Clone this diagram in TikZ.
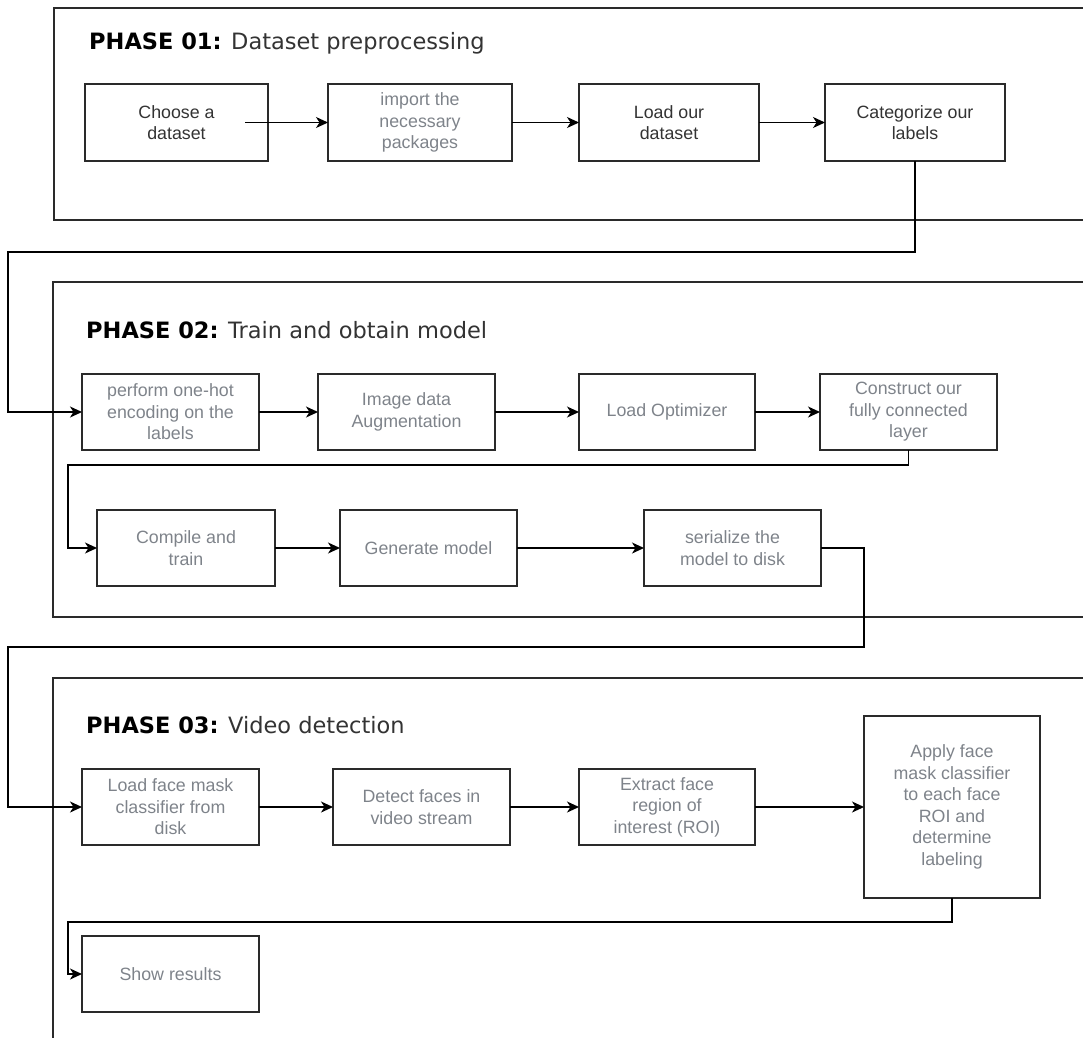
\documentclass[tikz,border=0pt]{standalone}
\usepackage{fontspec}
\setmainfont{Liberation Sans}
\newfontfamily\titlefont{DejaVu Sans}
\usetikzlibrary{arrows.meta}
\definecolor{edge}{HTML}{2A2A2A}
\definecolor{darktxt}{HTML}{333333}
\definecolor{graytxt}{HTML}{7E838A}
\begin{document}
\begin{tikzpicture}[x=1pt,y=-1pt,
  frame/.style={draw,color=edge,line width=1.5pt},
  box/.style={minimum width=177pt,minimum height=76pt,outer sep=0pt,
    align=center,inner sep=2pt,font=\fontsize{17.8}{21.5}\selectfont},
  gtxt/.style={box},
  dbox/.style={box,minimum height=77pt},
  rim/.style={draw,color=edge,line width=1.7pt},
  conn/.style={draw,color=black,line width=1.5pt},
  arr/.style={conn,-{Stealth[length=12pt,width=11pt,inset=3.5pt]}},
  ttl/.style={anchor=base west,inner sep=0pt,font=\titlefont\fontsize{22.5}{26}\selectfont}]
\useasboundingbox (0,0) rectangle (1083,1037);
% frames
\draw[frame] (1090,8) -- (54,8) -- (54,220) -- (1090,220);
\draw[frame] (1090,282) -- (53,282) -- (53,617) -- (1090,617);
\draw[frame] (1090,678) -- (53,678) -- (53,1045);
% phase 1
\node[dbox,minimum width=183pt] (c1) at (176.5,122.5) {\textcolor{darktxt}{Choose a}\\\textcolor{darktxt}{dataset}};
\node[box,minimum width=184pt,minimum height=77pt] (c2) at (420,122.5) {\textcolor{graytxt}{import the}\\\textcolor{graytxt}{necessary}\\\textcolor{graytxt}{packages}};
\node[dbox,minimum width=180pt] (c3) at (669,122.5) {\textcolor{darktxt}{Load our}\\\textcolor{darktxt}{dataset}};
\node[dbox,minimum width=180pt] (c4) at (915,122.5) {\textcolor{darktxt}{Categorize our}\\\textcolor{darktxt}{labels}};
% phase 2
\node[box] (p1) at (170.5,412) {\textcolor{graytxt}{perform one-hot}\\\textcolor{graytxt}{encoding on the}\\\textcolor{graytxt}{labels}};
\node[box] (p2) at (406.5,412) {\textcolor{graytxt}{Image data}\\\textcolor{graytxt}{Augmentation}};
\node[box,minimum width=176pt] (p3) at (667,412) {\textcolor{graytxt}{Load Optimizer}};
\node[box] (p4) at (908.5,412) {\textcolor{graytxt}{Construct our}\\\textcolor{graytxt}{fully connected}\\\textcolor{graytxt}{layer}};
\node[box,minimum width=178pt] (p5) at (186,548) {\textcolor{graytxt}{Compile and}\\\textcolor{graytxt}{train}};
\node[box] (p6) at (428.5,548) {\textcolor{graytxt}{Generate model}};
\node[box] (p7) at (732.5,548) {\textcolor{graytxt}{serialize the}\\\textcolor{graytxt}{model to disk}};
% phase 3
\node[box] (q1) at (170.5,807) {\textcolor{graytxt}{Load face mask}\\\textcolor{graytxt}{classifier from}\\\textcolor{graytxt}{disk}};
\node[box] (q2) at (421.5,807) {\textcolor{graytxt}{Detect faces in}\\\textcolor{graytxt}{video stream}};
\node[box,minimum width=176pt] (q3) at (667,807) {\textcolor{graytxt}{Extract face}\\\textcolor{graytxt}{region of}\\\textcolor{graytxt}{interest (ROI)}};
\node[box,minimum width=176pt,minimum height=182pt] (q4) at (952,807) {\textcolor{graytxt}{Apply face}\\\textcolor{graytxt}{mask classifier}\\\textcolor{graytxt}{to each face}\\\textcolor{graytxt}{ROI and}\\\textcolor{graytxt}{determine}\\\textcolor{graytxt}{labeling}};
\node[box] (q5) at (170.5,974) {\textcolor{graytxt}{Show results}};
% box outlines
\foreach \n in {c1,c2,c3,c4,p1,p2,p3,p4,p5,p6,p7,q1,q2,q3,q4,q5}
  \draw[rim] (\n.north west) rectangle (\n.south east);
% titles
\node[ttl] (t1) at (89,49) {\textcolor{black}{\textbf{PHASE 01:}} \textcolor{darktxt}{Dataset preprocessing}};
\node[ttl] (t2) at (86,338) {\textcolor{black}{\textbf{PHASE 02:}} \textcolor{darktxt}{Train and obtain model}};
\node[ttl] (t3) at (86,733) {\textcolor{black}{\textbf{PHASE 03:}} \textcolor{darktxt}{Video detection}};
% connector corners
\coordinate (k1) at (8,252);
\coordinate (k2) at (68,465);
\coordinate (k3) at (864,647);
\coordinate (k4) at (8,647);
\coordinate (k5) at (68,922);
% arrows
\draw[arr] ([xshift=-23pt]c1.east) -- (c2.west);
\draw[arr] (c2) -- (c3);
\draw[arr] (c3) -- (c4);
\draw[arr] (c4.south) |- (k1) |- (p1.west);
\draw[arr] (p1) -- (p2);
\draw[arr] (p2) -- (p3);
\draw[arr] (p3) -- (p4);
\draw[arr] (p4.south) |- (k2) |- (p5.west);
\draw[arr] (p5) -- (p6);
\draw[arr] (p6) -- (p7);
\draw[arr] (p7.east) -| (k3) -- (k4) |- (q1.west);
\draw[arr] (q1) -- (q2);
\draw[arr] (q2) -- (q3);
\draw[arr] (q3) -- (q4);
\draw[arr] (q4.south) |- (k5) |- (q5.west);
\end{tikzpicture}
\end{document}
